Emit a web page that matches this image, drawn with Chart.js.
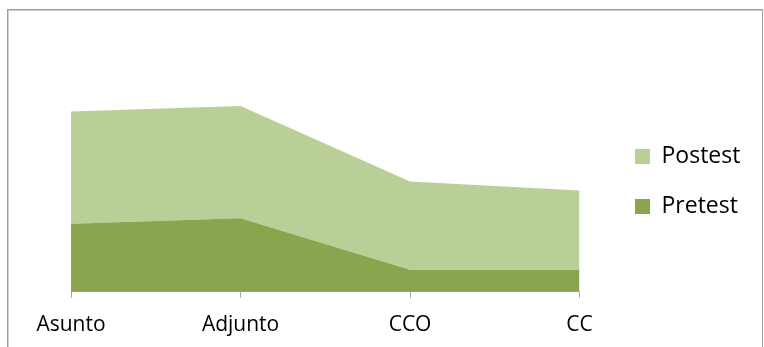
<!DOCTYPE html>
<html>
<head>
<meta charset="utf-8">
<script src="https://cdn.jsdelivr.net/npm/chart.js@4/dist/chart.umd.min.js"></script>
<style>
  html, body { margin: 0; padding: 0; background: #ffffff; }
  #wrap { position: relative; width: 764px; height: 347px; overflow: hidden; }
  #frame {
    position: absolute; left: 7px; top: 9px; width: 754px; height: 360px;
    border: 1px solid #9c9c9c; box-shadow: inset 1px 1px 0 #d0d0d0;
  }
  #my-chart { position: absolute; left: 0; top: 0; }
</style>
</head>
<body>
<div id="wrap">
  <div id="frame"></div>
  <canvas id="my-chart" width="764" height="347"></canvas>
</div>
<script>
'use strict';
// ***** DATA *****
let categories = ['Asunto', 'Adjunto', 'CCO', 'CC'];
let pretestValues = [3.7, 4.0, 1.2, 1.2];
let postestValues = [6.1, 6.1, 4.8, 4.3];

// ***** COLORS *****
let pretestColor = '#8ba54f';
let postestColor = '#bacf98';
let axisColor = '#a6a6a6';

// legend swatches start at this x
let legendBoxX = 635;
let legendPadding = 27;

let ctx = document.getElementById('my-chart');

// Move the legend sideways without touching the plot area
let legendNudge = {
  id: 'legendNudge',
  afterLayout(chart) {
    let legend = chart.legend;
    let shift = legendBoxX - (legend.left + legendPadding);
    legend.left += shift;
    legend.right += shift;
  }
};

// Stacked area: Pretest on the bottom, Postest filled on top of it
let chartDatasets = [
  {
    label: 'Pretest',
    data: pretestValues,
    backgroundColor: pretestColor,
    borderWidth: 0,
    pointRadius: 0,
    fill: 'origin'
  },
  {
    label: 'Postest',
    data: postestValues,
    backgroundColor: postestColor,
    borderWidth: 0,
    pointRadius: 0,
    fill: '-1'
  }
];

let chartOptions = {
  responsive: false,
  animation: false,
  layout: {
    padding: { left: 71, right: 42, top: 71, bottom: -6 }
  },
  plugins: {
    tooltip: { enabled: false },
    legend: {
      position: 'right',
      reverse: true,
      fullSize: false,
      labels: {
        color: '#000000',
        boxWidth: 15,
        boxHeight: 15,
        padding: legendPadding,
        font: { family: 'Open Sans', size: 23 }
      }
    }
  },
  scales: {
    x: {
      grid: {
        display: true,
        drawOnChartArea: false,
        drawTicks: true,
        tickLength: 6,
        color: axisColor
      },
      border: { display: true, color: axisColor, width: 1 },
      ticks: {
        color: '#000000',
        padding: 15,
        maxRotation: 0,
        font: { family: 'Open Sans', size: 21 }
      }
    },
    y: {
      display: false,
      stacked: true,
      min: 0,
      max: 12
    }
  }
};

new Chart(ctx, {
  type: 'line',
  data: {
    labels: categories,
    datasets: chartDatasets
  },
  options: chartOptions,
  plugins: [legendNudge]
});
</script>
</body>
</html>
